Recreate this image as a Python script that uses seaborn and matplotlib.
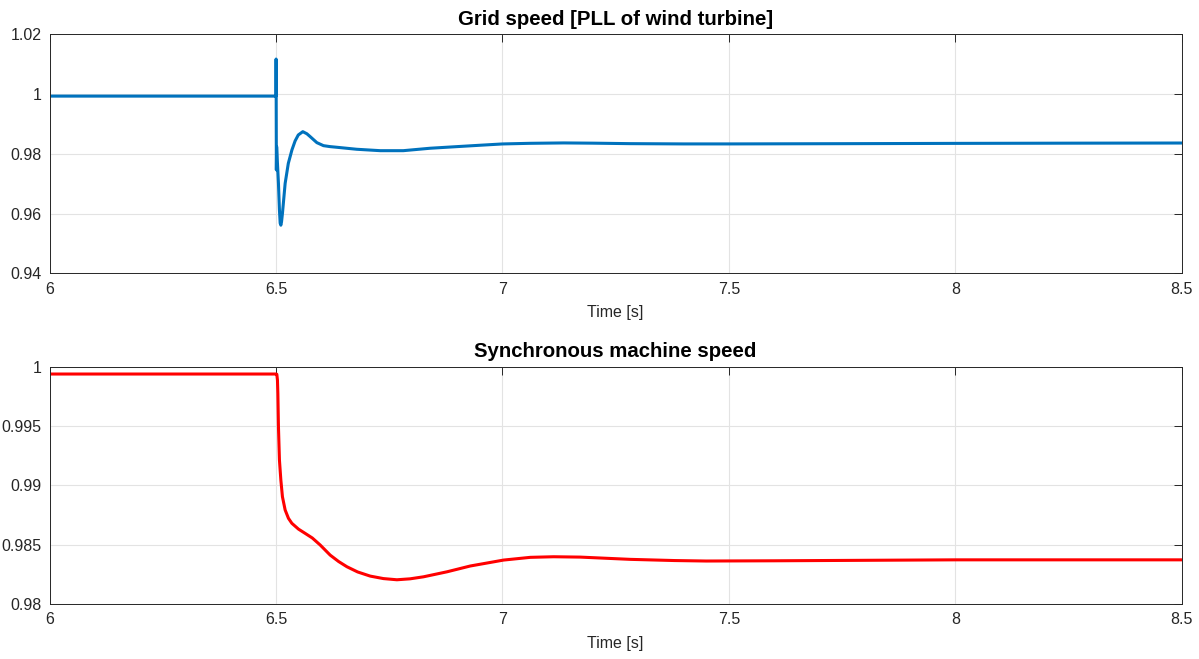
import matplotlib
matplotlib.use("Agg")
import matplotlib.pyplot as plt
import seaborn as sns
import pandas as pd

# Grid speed measured by the wind turbine PLL (p.u.)
pll_time = [6.000, 6.4998, 6.5000, 6.5006, 6.5012, 6.5052, 6.5074, 6.5090,
            6.5105, 6.5120, 6.5140, 6.5200, 6.5270, 6.5350, 6.5420, 6.5490,
            6.5590, 6.5680, 6.5752, 6.5900, 6.6046, 6.6190, 6.6340, 6.6780,
            6.7300, 6.7810, 6.8400, 6.9000, 6.9510, 7.0000, 7.0600, 7.1350,
            7.2000, 7.2820, 7.4000, 7.5000, 7.7500, 8.0000, 8.2500, 8.5000]
pll_speed = [0.9993, 0.9993, 1.0117, 0.9746, 0.9824, 0.9701, 0.9611, 0.9568,
             0.9561, 0.9572, 0.9600, 0.9701, 0.9768, 0.9813, 0.9843, 0.9863,
             0.9874, 0.9867, 0.98575, 0.98373, 0.98272, 0.98240, 0.98218,
             0.98151, 0.98104, 0.98104, 0.98185, 0.98240, 0.98286, 0.98329,
             0.98350, 0.98363, 0.98355, 0.98339, 0.98330, 0.98330, 0.98338,
             0.98348, 0.98355, 0.98360]

# Synchronous machine rotor speed (p.u.)
sm_time = [6.0000, 6.5000, 6.5016, 6.5030, 6.5039, 6.5052, 6.5074, 6.5105,
           6.5140, 6.5200, 6.5273, 6.5348, 6.5494, 6.5642, 6.5800, 6.5974,
           6.6194, 6.6380, 6.6563, 6.6800, 6.7078, 6.7370, 6.7668, 6.7960,
           6.8256, 6.8773, 6.9288, 7.0024, 7.0614, 7.1129, 7.1719, 7.2824,
           7.3800, 7.4500, 7.6000, 7.8000, 8.0000, 8.5000]
sm_speed = [0.99938, 0.99938, 0.99936, 0.99888, 0.99776, 0.99494, 0.99213,
            0.99045, 0.98904, 0.98792, 0.98722, 0.98680, 0.98631, 0.98595,
            0.98556, 0.98497, 0.98412, 0.98358, 0.98314, 0.98270, 0.98235,
            0.98214, 0.98204, 0.98212, 0.98229, 0.98271, 0.98320, 0.98370,
            0.98393, 0.98398, 0.98395, 0.98376, 0.98366, 0.98362, 0.98364,
            0.98368, 0.98372, 0.98372]

x_ticks = [6, 6.5, 7, 7.5, 8, 8.5]
x_ticklabels = ["6", "6.5", "7", "7.5", "8", "8.5"]
top_yticks = [0.94, 0.96, 0.98, 1.00, 1.02]
top_yticklabels = ["0.94", "0.96", "0.98", "1", "1.02"]
bot_yticks = [0.98, 0.985, 0.99, 0.995, 1.0]
bot_yticklabels = ["0.98", "0.985", "0.99", "0.995", "1"]

titles = ["Grid speed [PLL of wind turbine]", "Synchronous machine speed"]
xlabel = "Time [s]"

sns.set_style("white")
plt.rcParams["font.family"] = ["Liberation Sans", "DejaVu Sans"]

fig = plt.figure(figsize=(11.99, 6.59), dpi=100)
ax1 = fig.add_axes([0.04145, 0.5853, 0.9441, 0.3627])
ax2 = fig.add_axes([0.04145, 0.0835, 0.9441, 0.3601])

df1 = pd.DataFrame({"t": pll_time, "w": pll_speed})
df2 = pd.DataFrame({"t": sm_time, "w": sm_speed})

sns.lineplot(data=df1, x="t", y="w", ax=ax1, color="#0072BD", lw=2.2,
             estimator=None, sort=False)
sns.lineplot(data=df2, x="t", y="w", ax=ax2, color="#FF0000", lw=2.2,
             estimator=None, sort=False)

axis_color = "#262626"
for ax, yt, ytl, ylim, title in [
    (ax1, top_yticks, top_yticklabels, (0.94, 1.02), titles[0]),
    (ax2, bot_yticks, bot_yticklabels, (0.98, 1.0), titles[1]),
]:
    ax.set_xlim(6, 8.5)
    ax.set_ylim(*ylim)
    ax.set_xticks(x_ticks)
    ax.set_xticklabels(x_ticklabels)
    ax.set_yticks(yt)
    ax.set_yticklabels(ytl)
    ax.set_xlabel(xlabel, fontsize=11.5, color=axis_color, labelpad=6)
    ax.set_ylabel("")
    ax.set_title(title, fontsize=14.7, fontweight="bold", color="black", pad=7)
    ax.grid(True, color="#e3e3e3", lw=0.8)
    ax.set_axisbelow(True)
    ax.tick_params(direction="in", top=True, right=True, length=6,
                   width=0.7, colors=axis_color, labelsize=11.5, pad=6)
    for s in ax.spines.values():
        s.set_visible(True)
        s.set_color(axis_color)
        s.set_linewidth(0.7)

fig.savefig("out.png", dpi=100, facecolor="white")
